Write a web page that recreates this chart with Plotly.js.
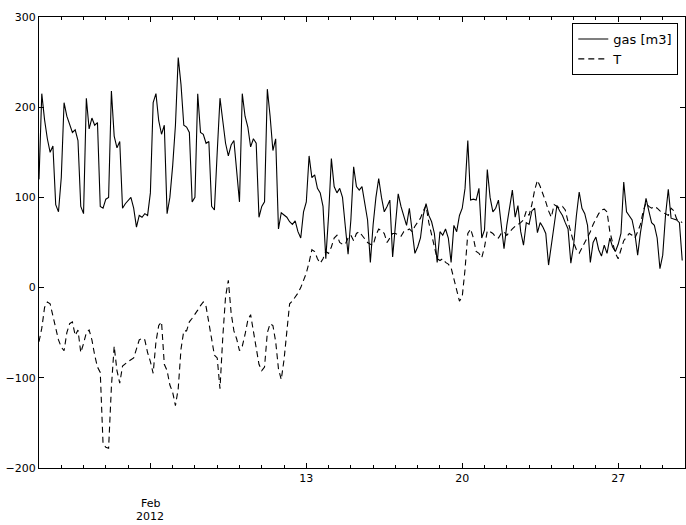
<!DOCTYPE html>
<html>
<head>
<meta charset="utf-8">
<script src="https://cdn.plot.ly/plotly-3.0.1.min.js"></script>
<style>html,body{margin:0;padding:0;background:#fff}#chart{width:686px;height:525px}</style>
</head>
<body>
<div id="chart"></div>
<script>
// 3-hourly samples starting 2012-02-01 00:00
const startTime = Date.UTC(2012, 1, 1, 0, 0);
const stepHours = 3;

const gasValues = [
  120,215,186,165,150,157,92,84,
  122,205,190,180,172,175,163,90,
  82,210,176,188,180,183,90,88,
  98,100,218,168,155,162,88,93,
  97,100,88,67,80,78,82,80,
  105,205,215,185,170,180,82,100,
  135,180,255,225,180,178,172,95,
  100,215,172,170,160,162,90,86,
  150,210,185,160,146,158,163,125,
  95,215,190,178,156,165,160,78,
  90,95,220,190,152,165,65,83,
  80,78,73,70,74,62,55,84,
  95,146,122,125,110,105,90,32,
  80,143,112,105,110,100,68,37,
  75,134,112,108,112,95,75,28,
  70,100,121,100,84,90,97,34,
  70,104,90,80,69,88,60,38,
  45,55,80,93,80,73,60,28,
  62,58,65,55,28,69,62,80,
  88,110,163,97,98,97,110,55,
  64,131,100,84,88,97,70,43,
  69,90,108,78,91,62,47,72,
  70,85,88,61,72,67,60,25,
  47,70,91,85,80,72,65,27,
  47,80,106,88,82,69,28,50,
  56,42,35,47,38,55,45,40,
  48,60,117,84,80,75,60,36,
  61,80,99,85,72,69,55,21,
  36,80,109,77,76,75,72,30
];

const tempValues = [
  -60,-45,-22,-16,-18,-32,-45,-58,
  -66,-70,-50,-40,-38,-53,-47,-72,
  -62,-50,-47,-58,-75,-88,-94,-173,
  -177,-178,-110,-65,-92,-106,-87,-84,
  -82,-80,-78,-68,-58,-56,-58,-72,
  -82,-95,-60,-42,-38,-85,-92,-108,
  -116,-131,-112,-68,-48,-48,-38,-34,
  -30,-25,-20,-16,-21,-40,-60,-75,
  -78,-112,-55,-10,8,-28,-48,-57,
  -70,-65,-52,-36,-30,-50,-68,-85,
  -92,-88,-50,-40,-42,-60,-90,-102,
  -80,-45,-18,-15,-11,-6,0,8,
  16,28,42,40,32,27,32,40,
  38,45,55,58,50,48,48,55,
  58,52,60,62,58,55,50,48,
  47,58,65,63,60,50,55,60,
  60,58,57,62,63,65,62,68,
  72,77,85,91,72,58,47,32,
  30,32,28,26,22,10,-3,-15,
  -10,20,60,65,55,40,38,33,
  45,63,62,60,56,55,60,62,
  58,62,65,68,70,72,75,85,
  80,92,108,119,112,104,95,85,
  78,92,90,88,90,86,73,60,
  50,42,38,44,50,56,62,70,
  77,82,86,87,84,62,50,38,
  32,42,52,56,60,58,55,62,
  70,85,94,90,88,90,88,85,
  83,82,80,88,85,76,74,72
];

const seriesNames = ['gas [m3]', 'T'];
const xTickVals = ['2012-02-06', '2012-02-13', '2012-02-20', '2012-02-27'];
const xTickText = ['', '13', '20', '27'];
const monthLabel = 'Feb';
const yearLabel = '2012';
const yTickVals = [-200, -100, 0, 100, 200, 300];

function fmt(ms) {
  const d = new Date(ms);
  const p = n => String(n).padStart(2, '0');
  return d.getUTCFullYear() + '-' + p(d.getUTCMonth() + 1) + '-' + p(d.getUTCDate()) +
    ' ' + p(d.getUTCHours()) + ':' + p(d.getUTCMinutes());
}
const times = gasValues.map((_, i) => fmt(startTime + i * stepHours * 3600000));

const font = {family: 'DejaVu Sans, sans-serif', size: 11, color: '#000'};

const data = [
  {x: times, y: gasValues, name: seriesNames[0], type: 'scatter', mode: 'lines',
   line: {color: '#000', width: 1.1}},
  {x: times, y: tempValues, name: seriesNames[1], type: 'scatter', mode: 'lines',
   line: {color: '#000', width: 1.1, dash: '6px,4px'}}
];

const layout = {
  width: 686, height: 525,
  margin: {l: 39, r: 1, t: 17, b: 57},
  paper_bgcolor: '#fff', plot_bgcolor: '#fff',
  font: font,
  showlegend: true,
  legend: {x: 0.9896, y: 0.9867, xanchor: 'right', yanchor: 'top',
           bordercolor: '#000', borderwidth: 1, bgcolor: '#fff',
           font: {family: 'DejaVu Sans, sans-serif', size: 13, color: '#000'}},
  xaxis: {
    type: 'date', range: ['2012-02-01', '2012-03-01'],
    tickmode: 'array', tickvals: xTickVals, ticktext: xTickText,
    ticks: 'inside', ticklen: 5, tickcolor: '#000', tickwidth: 1,
    showline: true, linecolor: '#000', linewidth: 1, mirror: 'ticks',
    showgrid: false, zeroline: false,
    minor: {dtick: 86400000, tick0: '2012-02-01', ticks: 'inside', ticklen: 3, tickcolor: '#000', showgrid: false},
    tickfont: font
  },
  yaxis: {
    range: [-200, 300], tickmode: 'array', tickvals: yTickVals,
    ticks: 'inside', ticklen: 5, tickcolor: '#000', tickwidth: 1,
    showline: true, linecolor: '#000', linewidth: 1, mirror: 'ticks',
    showgrid: false, zeroline: false, tickfont: font
  },
  annotations: [
    {x: xTickVals[0], xref: 'x', y: -0.0787, yref: 'paper', yanchor: 'middle',
     text: monthLabel, showarrow: false, font: font},
    {x: xTickVals[0], xref: 'x', y: -0.1076, yref: 'paper', yanchor: 'middle',
     text: yearLabel, showarrow: false, font: font}
  ]
};

Plotly.newPlot('chart', data, layout, {displayModeBar: false, staticPlot: true});
</script>
</body>
</html>
